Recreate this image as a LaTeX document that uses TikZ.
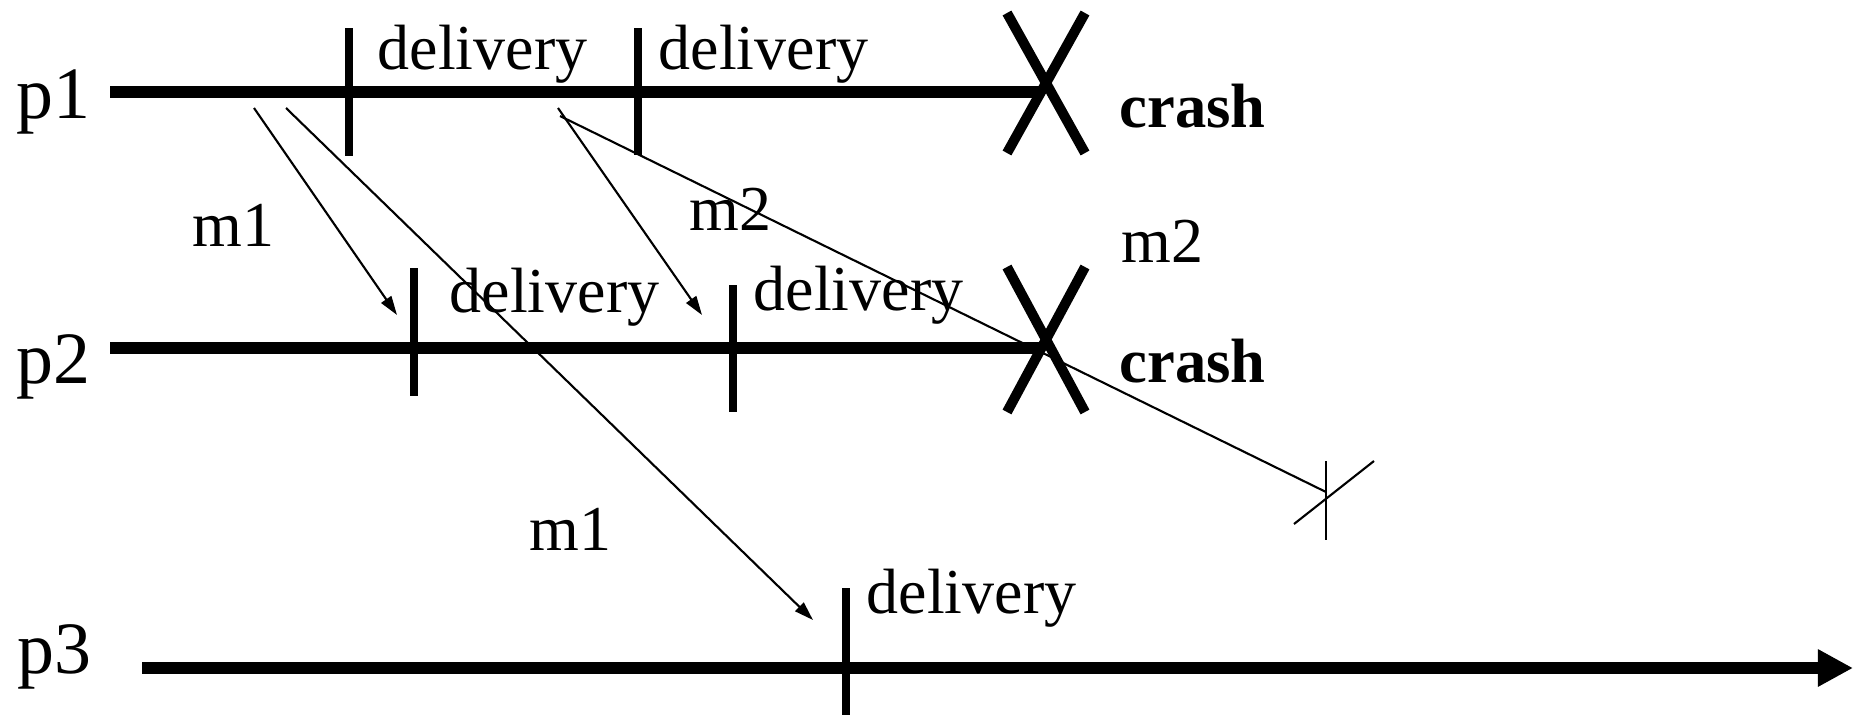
\documentclass[tikz,border=0pt]{standalone}
\usepackage{fontspec}
\setmainfont{Liberation Serif}
\usetikzlibrary{arrows.meta}
\begin{document}
\begin{tikzpicture}[x=0.01cm,y=-0.01cm,
  proc/.style={line width=3.15pt},
  tickline/.style={line width=2.3pt},
  crossline/.style={line width=2.85pt},
  msg/.style={line width=0.6pt},
  msgarrow/.style={msg,-{Triangle[length=0.19cm,width=0.12cm]}},
  lbl/.style={anchor=base west,inner sep=0pt,font=\fontsize{18.2}{20}\selectfont},
  plbl/.style={anchor=base west,inner sep=0pt,font=\fontsize{21}{24}\selectfont},
  crashlbl/.style={anchor=base west,inner sep=0pt,font=\fontsize{17.8}{20}\selectfont\bfseries}]
\useasboundingbox (0,0) rectangle (1857,715);
% process lines
\coordinate (p1s) at (110,92); \coordinate (p1e) at (1040,92);
\coordinate (p2s) at (110,348); \coordinate (p2e) at (1040,348);
\coordinate (p3s) at (142,668); \coordinate (p3e) at (1853,668);
\draw[proc] (p1s) -- (p1e);
\draw[proc] (p2s) -- (p2e);
\draw[proc,-{Triangle[length=0.35cm,width=0.35cm]}] (p3s) -- (p3e);
% crosses
\coordinate (x1a) at (1007,13); \coordinate (x1b) at (1085,153);
\coordinate (x1c) at (1085,13); \coordinate (x1d) at (1007,153);
\draw[crossline] (x1a) -- (x1b);
\draw[crossline] (x1c) -- (x1d);
\coordinate (x2a) at (1007,267); \coordinate (x2b) at (1085,412);
\coordinate (x2c) at (1085,267); \coordinate (x2d) at (1007,412);
\draw[crossline] (x2a) -- (x2b);
\draw[crossline] (x2c) -- (x2d);
% delivery ticks
\coordinate (t1a) at (349,28); \coordinate (t1b) at (349,156);
\coordinate (t2a) at (638,28); \coordinate (t2b) at (638,155);
\coordinate (t3a) at (414,268); \coordinate (t3b) at (414,396);
\coordinate (t4a) at (733,285); \coordinate (t4b) at (733,412);
\coordinate (t5a) at (846,588); \coordinate (t5b) at (846,715);
\draw[tickline] (t1a) -- (t1b);
\draw[tickline] (t2a) -- (t2b);
\draw[tickline] (t3a) -- (t3b);
\draw[tickline] (t4a) -- (t4b);
\draw[tickline] (t5a) -- (t5b);
% messages
\coordinate (m1as) at (254,108); \coordinate (m1ae) at (397,315);
\coordinate (m1bs) at (286,108); \coordinate (m1be) at (813,620);
\coordinate (m2as) at (558,108); \coordinate (m2ae) at (702,315);
\coordinate (m2bs) at (560,116); \coordinate (m2be) at (1326,492);
\draw[msgarrow] (m1as) -- (m1ae);
\draw[msgarrow] (m1bs) -- (m1be);
\draw[msgarrow] (m2as) -- (m2ae);
\draw[msg] (m2bs) -- (m2be);
% lost message mark
\coordinate (la) at (1326,461); \coordinate (lb) at (1326,540);
\coordinate (lc) at (1294,524); \coordinate (ld) at (1374,461);
\draw[msg] (la) -- (lb);
\draw[msg] (lc) -- (ld);
% labels
\node[plbl] (np1) at (16,118) {p1};
\node[plbl] (np2) at (16,383) {p2};
\node[plbl] (np3) at (17,673) {p3};
\node[lbl] (d1) at (377,70) {delivery};
\node[lbl] (d2) at (658,70) {delivery};
\node[lbl] (d3) at (449,312) {delivery};
\node[lbl] (d4) at (753,310) {delivery};
\node[lbl] (d5) at (866,613) {delivery};
\node[lbl] (lm1a) at (192,246) {m1};
\node[lbl] (lm1b) at (529,550) {m1};
\node[lbl] (lm2a) at (689,230) {m2};
\node[lbl] (lm2b) at (1121,262) {m2};
\node[crashlbl] (c1) at (1119,127) {crash};
\node[crashlbl] (c2) at (1119,382) {crash};
\end{tikzpicture}
\end{document}
